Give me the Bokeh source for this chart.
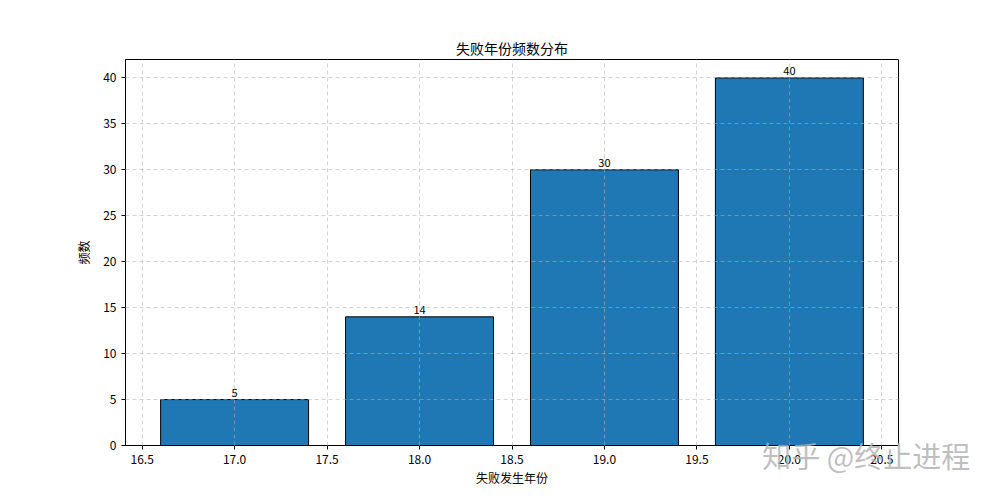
from bokeh.plotting import figure
from bokeh.models import (ColumnDataSource, Range1d, FixedTicker, LinearAxis,
                          CustomJSTickFormatter)
from bokeh.embed import file_html
from bokeh.resources import INLINE

FONT = "Noto Sans CJK SC"

# data
years = [17, 18, 19, 20]
counts = [5, 14, 30, 40]
x_ticks = [16.5, 17.0, 17.5, 18.0, 18.5, 19.0, 19.5, 20.0, 20.5]
y_ticks = [0, 5, 10, 15, 20, 25, 30, 35, 40]
watermark = "知乎 @终止进程"

source = ColumnDataSource(data=dict(
    x=years,
    top=counts,
    label=[str(c) for c in counts],
))

p = figure(
    width=984, height=484,
    frame_width=773, frame_height=386,
    min_border_left=125, min_border_right=86,
    min_border_top=59, min_border_bottom=39,
    x_range=Range1d(16.41, 20.59), y_range=Range1d(0, 42),
    output_backend="svg", toolbar_location=None,
    title="失败年份频数分布",
)

p.vbar(x="x", top="top", width=0.8, source=source,
       fill_color="#1f77b4", line_color="black", line_width=1)

p.text(x="x", y="top", text="label", source=source,
       text_align="center", text_baseline="bottom",
       text_font_size="11px", text_color="black", text_font={"value": FONT},
       y_offset=-3)

# title
p.title.align = "center"
p.title.text_font = FONT
p.title.text_font_size = "14px"
p.title.text_font_style = "normal"
p.title.text_color = "black"
p.title.standoff = 4

# frame
p.outline_line_color = "black"
p.outline_line_width = 1
p.background_fill_color = "white"
p.border_fill_color = "white"

# axes
for ax in (p.xaxis[0], p.yaxis[0]):
    ax.axis_line_color = "black"
    ax.major_tick_line_color = "black"
    ax.major_tick_out = 4
    ax.major_tick_in = 0
    ax.minor_tick_line_color = None
    ax.major_label_text_font = FONT
    ax.major_label_text_font_size = "12px"
    ax.major_label_text_color = "black"
    ax.axis_label_text_font = FONT
    ax.axis_label_text_font_size = "12px"
    ax.axis_label_text_font_style = "normal"
    ax.axis_label_text_color = "black"

p.xaxis.ticker = FixedTicker(ticks=x_ticks)
p.yaxis.ticker = FixedTicker(ticks=y_ticks)
p.xaxis.formatter = CustomJSTickFormatter(code="return tick.toFixed(1);")
p.xaxis.axis_label = "失败发生年份"
p.yaxis.axis_label = "频数"
p.xaxis.axis_label_standoff = 2
p.yaxis.axis_label_standoff = 8

# grid drawn over the bars, like the original
for g in (p.xgrid[0], p.ygrid[0]):
    g.ticker = FixedTicker(ticks=x_ticks if g is p.xgrid[0] else y_ticks)
    g.grid_line_color = "#b0b0b0"
    g.grid_line_alpha = 0.55
    g.grid_line_dash = "4 3"
    g.level = "annotation"

# watermark: an extra bare axis below, its single label pulled up with a negative standoff
wm = LinearAxis(ticker=FixedTicker(ticks=[20.416]),
                formatter=CustomJSTickFormatter(code="return '%s';" % watermark))
wm.axis_line_color = None
wm.major_tick_line_color = None
wm.minor_tick_line_color = None
wm.major_tick_out = 0
wm.major_tick_in = 0
wm.major_label_standoff = -55
wm.major_label_text_font = FONT
wm.major_label_text_font_size = "29px"
wm.major_label_text_color = "#b4b4b4"
wm.major_label_text_alpha = 0.85
p.add_layout(wm, "below")

open("out.html", "w").write(file_html(p, INLINE))
